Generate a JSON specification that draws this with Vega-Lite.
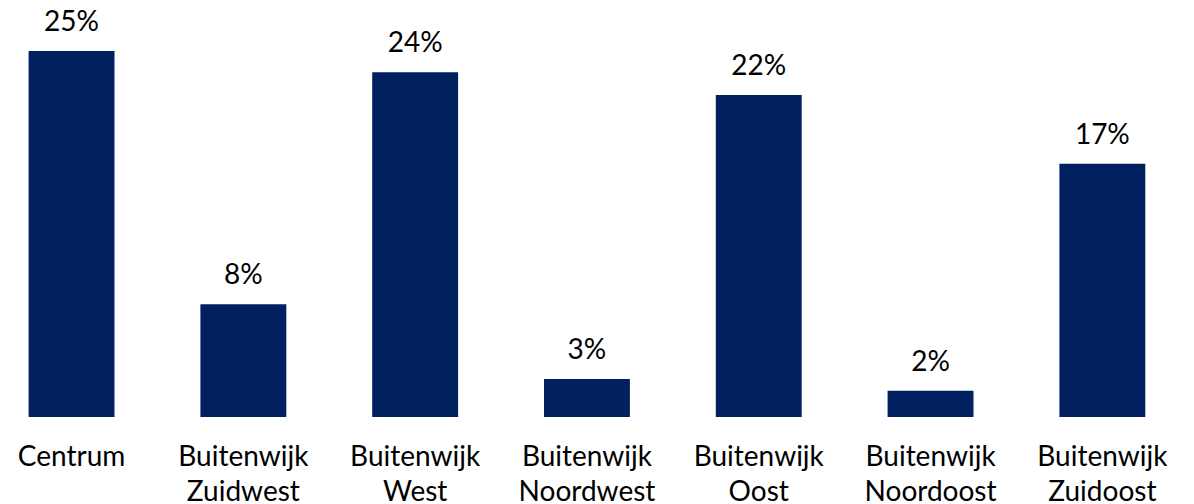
{
  "$schema": "https://vega.github.io/schema/vega-lite/v6.json",
  "width": 1194,
  "height": 417,
  "padding": {"top": 0, "left": 0, "right": 0, "bottom": 87},
  "autosize": "none",
  "background": "white",
  "config": {"view": {"stroke": null}, "font": "Lato"},
  "data": {
    "values": [
      {"wijk": "Centrum", "aandeel": 25.0, "label": "25%"},
      {"wijk": "Buitenwijk Zuidwest", "aandeel": 7.7, "label": "8%"},
      {"wijk": "Buitenwijk West", "aandeel": 23.55, "label": "24%"},
      {"wijk": "Buitenwijk Noordwest", "aandeel": 2.6, "label": "3%"},
      {"wijk": "Buitenwijk Oost", "aandeel": 22.0, "label": "22%"},
      {"wijk": "Buitenwijk Noordoost", "aandeel": 1.8, "label": "2%"},
      {"wijk": "Buitenwijk Zuidoost", "aandeel": 17.3, "label": "17%"}
    ]
  },
  "encoding": {
    "x": {
      "field": "wijk",
      "type": "nominal",
      "sort": null,
      "scale": {"paddingInner": 0.5, "paddingOuter": 0.225, "align": 0.37},
      "axis": {
        "title": null,
        "domain": false,
        "ticks": false,
        "labelAngle": 0,
        "labelFontSize": 28,
        "labelColor": "#000000",
        "labelPadding": 26,
        "labelLineHeight": 35,
        "labelExpr": "split(datum.label, ' ')"
      }
    },
    "y": {
      "field": "aandeel",
      "type": "quantitative",
      "scale": {"domain": [0, 28.48], "nice": false},
      "axis": null
    }
  },
  "layer": [
    {"mark": {"type": "bar", "color": "#002060"}},
    {
      "mark": {"type": "text", "baseline": "alphabetic", "dy": -20, "fontSize": 28, "color": "#000000"},
      "encoding": {"text": {"field": "label"}}
    }
  ]
}
